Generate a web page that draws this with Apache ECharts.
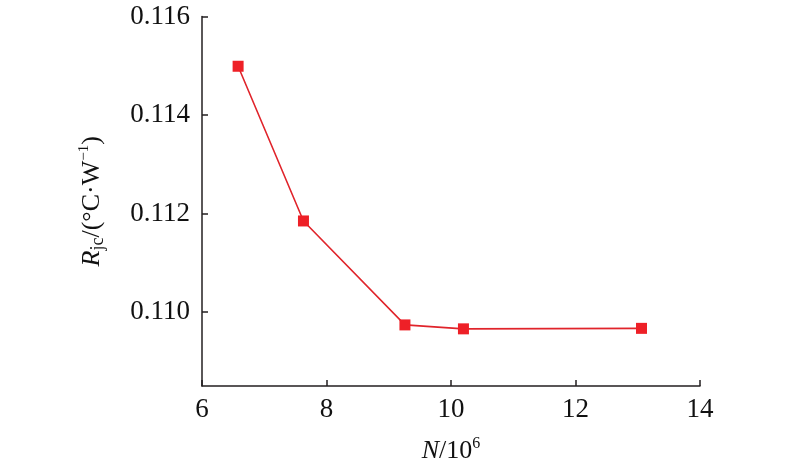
<!DOCTYPE html>
<html><head><meta charset="utf-8">
<script src="https://cdn.jsdelivr.net/npm/echarts@6/dist/echarts.min.js"></script>
<style>html,body{margin:0;padding:0;background:#fff}#c{width:800px;height:467px}</style>
</head><body><div id="c"></div>
<script>
const xValues = [6.58, 7.63, 9.26, 10.20, 13.06];
const yValues = [0.11499, 0.11185, 0.10974, 0.10966, 0.10967];
const yTicks = [0.110, 0.112, 0.114, 0.116];
const xTicks = [6, 8, 10, 12, 14];

const axisColor = '#231f20';
const font = '"Liberation Serif", "Times New Roman", serif';
const chart = echarts.init(document.getElementById('c'));
chart.setOption({
  animation: false,
  backgroundColor: '#fff',
  textStyle: { fontFamily: font },
  grid: { left: 202, right: 100, top: 16.5, bottom: 81, containLabel: false, outerBoundsMode: 'none' },
  xAxis: {
    type: 'value', min: 6, max: 14, interval: 2,
    axisLine: { show: true, lineStyle: { color: axisColor, width: 1.5 } },
    axisTick: { show: true, inside: true, length: 6, lineStyle: { color: axisColor, width: 1.5 } },
    splitLine: { show: false },
    axisLabel: { color: '#111', fontFamily: font, fontSize: 27, margin: 10 },
    name: '{i|N}{n|/10}{sup|6}',
    nameLocation: 'middle', nameGap: 50,
    nameTextStyle: {
      fontFamily: font,
      rich: {
        i: { fontFamily: font, fontStyle: 'italic', fontSize: 26, color: '#111', lineHeight: 28, verticalAlign: 'bottom' },
        n: { fontFamily: font, fontSize: 26, color: '#111', lineHeight: 28, verticalAlign: 'bottom' },
        sup: { fontFamily: font, fontSize: 16, color: '#111', lineHeight: 28, verticalAlign: 'top' }
      }
    }
  },
  yAxis: {
    type: 'value', min: 0.1085, max: 0.116,
    axisLine: { show: true, lineStyle: { color: axisColor, width: 1.5 } },
    axisTick: { show: true, inside: true, length: 6, customValues: yTicks, lineStyle: { color: axisColor, width: 1.5 } },
    splitLine: { show: false },
    axisLabel: { color: '#111', fontFamily: font, fontSize: 27, margin: 12, customValues: yTicks,
      formatter: v => v.toFixed(3) },
    name: '{i|R}{sub|jc}{n|/(°C·W}{sup|−1}{n|)}',
    nameLocation: 'middle', nameRotate: 90, nameGap: 95,
    nameTextStyle: {
      fontFamily: font,
      rich: {
        i: { fontFamily: font, fontStyle: 'italic', fontSize: 26, color: '#111', lineHeight: 30, verticalAlign: 'middle' },
        n: { fontFamily: font, fontSize: 26, color: '#111', lineHeight: 30, verticalAlign: 'middle' },
        sub: { fontFamily: font, fontSize: 18, color: '#111', lineHeight: 30, verticalAlign: 'bottom' },
        sup: { fontFamily: font, fontSize: 15, color: '#111', lineHeight: 30, verticalAlign: 'top' }
      }
    }
  },
  series: [{
    type: 'line',
    data: xValues.map((x, i) => [x, yValues[i]]),
    symbol: 'rect', symbolSize: 11,
    lineStyle: { color: '#e0242b', width: 1.6 },
    itemStyle: { color: '#ee2027' }
  }]
});
</script></body></html>
